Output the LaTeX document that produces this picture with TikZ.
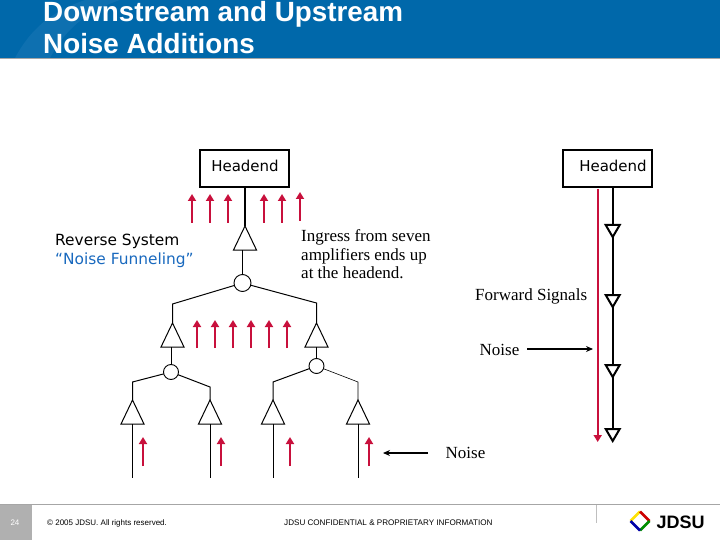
\documentclass[tikz,border=0pt]{standalone}
\usepackage{fontspec}
\setmainfont{Liberation Serif}
\setsansfont{Liberation Sans}
\newfontfamily\verdfont{DejaVu Sans}
\usetikzlibrary{arrows.meta,positioning,calc,shapes.geometric}
\definecolor{bandcol}{RGB}{0,104,170}
\definecolor{bandlight}{RGB}{14,112,176}
\definecolor{noisecol}{RGB}{200,16,60}
\definecolor{funnelcol}{RGB}{25,105,190}
\definecolor{footcol}{RGB}{176,176,176}
\tikzset{
  % headend box
  headbox/.style={rectangle, draw=black, line width=1.3pt, minimum width=89pt, minimum height=37pt,
               inner sep=0pt, outer sep=0pt},
  % title lines
  titletext/.style={anchor=base west, inner sep=0pt, text=white, font=\sffamily\bfseries\fontsize{27.8}{32}\selectfont},
  % text inside and beside the boxes
  verdlabel/.style={font=\verdfont\fontsize{15}{18}\selectfont, inner sep=0pt, text=#1},
  verdlabel/.default={black},
  seriflabel/.style={font=\fontsize{17}{18.6}\selectfont, inner sep=0pt, text=black},
  % reverse amplifier
  upamp/.style={isosceles triangle, isosceles triangle stretches, shape border rotate=90, draw=black,
               line width=1pt, minimum width=23pt, minimum height=24pt, inner sep=0pt, outer sep=0pt, anchor=apex},
  % forward amplifier
  downamp/.style={isosceles triangle, isosceles triangle stretches, shape border rotate=270, draw=black,
               line width=2pt, minimum width=14pt, minimum height=12pt, inner sep=0pt, outer sep=0pt, anchor=lower side},
  % combiner node
  combiner/.style={circle, draw=black, line width=0.9pt, inner sep=0pt, outer sep=0pt, minimum size=#1},
  combiner/.default={17pt},
  % plant wire
  wire/.style={line width=1pt, black},
  % red noise arrow
  noisearrow/.style={-{Triangle[length=7pt,width=8pt]}, line width=2pt, noisecol},
  % black pointer
  pointer/.style={-{Stealth[length=7pt,width=6pt]}, line width=1.1pt, black},
  % footer text
  foottext/.style={font=\sffamily\fontsize{8}{10}\selectfont, inner sep=0pt, text=#1},
  foottext/.default={black},
}
\begin{document}
\begin{tikzpicture}[x=1pt,y=-1pt]
  \useasboundingbox (0,0) rectangle (720,540);
  % title band
  \fill[bandcol] (0,0) rectangle (720,58);
  \fill[bandlight] (15,58) .. controls (30,30) and (50,12) .. (85,0) -- (120,0) .. controls (85,12) and (65,30) .. (50,58) -- cycle;
  \fill[black!35] (0,58) rectangle (720,59);
  \node[titletext] (titleA) at (43,22) {Downstream and Upstream};
  \node[titletext] (titleB) at (43,54) {Noise Additions};
  % reverse system: boxes and amplifiers
  \node[headbox] (headL) at (244.5,168.5) {};
  \node[verdlabel] (headLtxt) at (245,166) {Headend};
  \node[upamp] (ampA) at (245,226) {};
  \node[combiner] (combA) at (242.5,283) {};
  \node[upamp] (ampB) at (172.5,323) {};
  \node[upamp] (ampC) at (316.5,323) {};
  \node[combiner=15pt] (combB) at (171,372) {};
  \node[combiner=15pt] (combC) at (316.5,366) {};
  \node[upamp] (ampD) at (132.5,400) {};
  \node[upamp] (ampE) at (210,400) {};
  \node[upamp] (ampF) at (273,400) {};
  \node[upamp] (ampG) at (358,400) {};
  % corners and open ends
  \coordinate (armAl) at (172.5,304);
  \coordinate (armAr) at (316.5,303);
  \coordinate (armBl) at (132.5,382);
  \coordinate (armBr) at (210,387);
  \coordinate (armCl) at (273,382);
  \coordinate (armCr) at (358,382);
  \coordinate (endD) at (132.5,478);
  \coordinate (endE) at (210,478);
  \coordinate (endF) at (273,478);
  \coordinate (endG) at (358,478);
  % wires
  \draw[wire, line width=1.5pt] (headL.south -| ampA.apex) -- (ampA.apex);
  \draw[wire] (ampA.lower side -| combA) -- (combA);
  \draw[wire] (combA) -- (armAl) -- (ampB.apex);
  \draw[wire] (combA) -- (armAr) -- (ampC.apex);
  \draw[wire] (ampB.lower side -| combB) -- (combB);
  \draw[wire, line width=1.3pt] (ampC.lower side) -- (combC);
  \draw[wire] (combB) -- (armBl) -- (ampD.apex);
  \draw[wire] (combB) -- (armBr) -- (ampE.apex);
  \draw[wire] (combC) -- (armCl) -- (ampF.apex);
  \draw[wire, line width=0.6pt] (combC) -- (armCr) -- (ampG.apex);
  \draw[wire] (ampD.lower side) -- (endD);
  \draw[wire] (ampE.lower side) -- (endE);
  \draw[wire] (ampF.lower side) -- (endF);
  \draw[wire] (ampG.lower side) -- (endG);
  % noise arrows
  \foreach \x/\ya/\yb in {192/223/194,210/223/194,228/223/194,264/223/194,282/223/194,300/221/192,
      197/348/320,215/348/320,233/348/320,251/348/320,269/348/320,287/348/320,
      143/466/437,221/466/437,290/466/437,369/466/437}{
    \coordinate (tail\x\ya) at (\x,\ya);
    \coordinate (tip\x\ya) at (\x,\yb);
    \draw[noisearrow] (tail\x\ya) -- (tip\x\ya);
  }
  % reverse labels
  \node[verdlabel, anchor=west, font=\verdfont\fontsize{15.4}{18}\selectfont] (revtxt) at (55,241.5) {Reverse System};
  \node[verdlabel=funnelcol, anchor=west, font=\verdfont\fontsize{15.4}{18}\selectfont] (funtxt) at (55,260.5) {“Noise Funneling”};
  \node[seriflabel, anchor=north west, align=left] (ingtxt) at (301,229.5)
    {Ingress from seven\\amplifiers ends up\\at the headend.};
  % forward system
  \node[headbox] (headR) at (607.5,168.5) {};
  \node[verdlabel] (headRtxt) at (613,166) {Headend};
  \node[downamp] (fwdA) at (612.7,225) {};
  \node[downamp] (fwdB) at (612.7,295) {};
  \node[downamp] (fwdC) at (612.7,365) {};
  \node[downamp] (fwdD) at (612.7,429) {};
  \draw[wire, line width=1.8pt] (headR.south -| fwdA.lower side) -- (fwdA.lower side);
  \draw[wire, line width=1.8pt] (fwdA.apex) -- (fwdB.lower side);
  \draw[wire, line width=1.8pt] (fwdB.apex) -- (fwdC.lower side);
  \draw[wire, line width=1.8pt] (fwdC.apex) -- (fwdD.lower side);
  \coordinate (fwdtop) at (597.7,189);
  \coordinate (fwdtip) at (597.7,442);
  \draw[noisearrow] (fwdtop) -- (fwdtip);
  \node[seriflabel, anchor=west] (fwdtxt) at (475,296.5) {Forward Signals};
  \node[seriflabel] (noiseA) at (499.5,350) {Noise};
  \node[seriflabel] (noiseB) at (465.5,453) {Noise};
  \coordinate (noiseAtip) at (593,349);
  \coordinate (noiseBtip) at (383,453);
  \draw[pointer] (527,349) coordinate (noiseAtail) -- (noiseAtip);
  \draw[pointer] (428,453) coordinate (noiseBtail) -- (noiseBtip);
  % footer
  \fill[black!35] (0,504) rectangle (720,505);
  \fill[footcol] (0,505) rectangle (32,540);
  \draw[black!25, line width=0.7pt] (596,505) -- (596,523);
  \node[foottext=white] (pagenum) at (15,523) {24};
  \node[foottext, anchor=west] (copytxt) at (47,523) {© 2005 JDSU. All rights reserved.};
  \node[foottext, anchor=west, font=\sffamily\fontsize{8.1}{10}\selectfont] (conftxt) at (284,523) {JDSU CONFIDENTIAL \& PROPRIETARY INFORMATION};
  % logo
  \draw[line width=2.6pt, yellow!85!orange] (630.5,521) -- (640,511.5);
  \draw[line width=2.6pt, red!80!black] (640,511.5) -- (649.5,521);
  \draw[line width=2.6pt, green!55!black] (649.5,521) -- (640,530.5);
  \draw[line width=2.6pt, blue!65!black] (640,530.5) -- (630.5,521);
  \node[anchor=west, inner sep=0pt, font=\sffamily\bfseries\fontsize{18}{20}\selectfont] (logotxt) at (656.5,522) {JDSU};
\end{tikzpicture}
\end{document}
